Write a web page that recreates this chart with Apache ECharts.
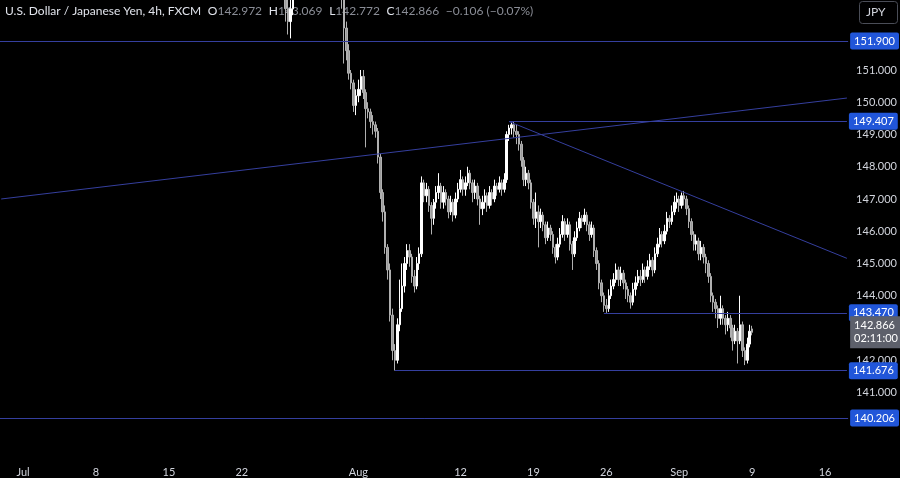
<!DOCTYPE html>
<html>
<head>
<meta charset="utf-8">
<script src="https://cdn.jsdelivr.net/npm/echarts@6/dist/echarts.min.js"></script>
<style>html,body{margin:0;background:#000;}#main{width:900px;height:478px;}</style>
</head>
<body>
<div id="main"></div>
<script>
// bars are 4h, weekdays only; first bar of the list sits at startIdx on the time axis
var startIdx = 117;
var totalBars = 349;
// [open, close, low, high]
var bars = [
[153.4,152.9,152.5,153.6],[152.9,152.5,152.1,153.3],[152.5,152.9,151.98,153.2],[152.9,153.5,152.7,153.8],[153.5,154.0,153.3,154.2],
[154.0,154.3,153.8,154.6],[154.3,154.1,153.9,154.5],[154.1,154.6,154.0,154.9],[154.6,154.9,154.4,155.2],[154.9,154.5,154.3,155.0],
[154.5,154.2,153.9,154.7],[154.2,154.6,154.0,154.8],[154.6,154.8,154.4,155.1],[154.8,154.4,154.2,155.0],[154.4,154.0,153.7,154.5],
[154.0,154.3,153.8,154.6],[154.3,154.7,154.1,154.9],[154.7,154.5,154.2,154.9],[154.5,154.2,154.0,154.6],[154.2,154.4,153.9,154.6],
[154.4,154.1,153.8,154.5],[154.1,154.2,153.7,154.4],[154.2,153.8,153.4,154.5],[153.8,153.3,152.9,154.0],[153.3,152.3,151.2,153.5],
[152.3,151.6,151.3,152.5],[151.6,150.9,150.7,151.8],
[150.9,150.6,150.4,151.0],[150.6,149.9,149.7,150.7],[149.9,150.2,149.6,150.4],[150.2,150.4,150.0,150.7],[150.4,150.8,150.2,151.0],
[150.8,150.3,150.1,151.0],[150.3,149.8,148.6,150.4],[149.8,149.7,149.5,150.0],[149.7,149.4,149.2,149.8],[149.4,149.3,149.0,149.6],
[149.3,149.1,148.9,149.4],[149.1,148.3,148.1,149.2],[148.3,147.2,147.0,148.4],[147.2,146.6,146.3,147.3],[146.6,145.5,145.3,146.8],
[145.5,144.8,144.5,145.6],[144.8,143.4,143.2,145.0],[143.4,142.3,142.0,143.6],[142.3,142.0,141.68,142.5],[142.0,143.1,141.9,143.3],
[143.1,143.6,142.9,144.5],[143.6,144.3,143.5,145.0],[144.3,145.0,144.1,145.2],[145.0,145.4,144.8,145.6],[145.4,145.2,144.9,145.6],
[145.2,144.6,144.4,145.3],[144.6,144.3,144.1,144.8],[144.3,145.0,144.2,145.2],[145.0,145.3,144.8,145.5],[145.3,147.5,145.2,147.7],
[147.5,147.1,146.9,147.6],[147.1,147.3,146.9,147.5],[147.3,146.8,146.6,147.4],[146.8,146.4,145.9,146.9],[146.4,146.9,146.2,147.0],
[146.9,147.2,146.7,147.4],[147.2,147.4,147.0,147.8],[147.4,146.9,146.7,147.5],[146.9,147.2,146.7,147.4],[147.2,147.0,146.8,147.3],
[147.0,146.6,146.4,147.1],[146.6,146.9,146.5,147.1],[146.9,146.5,146.3,147.0],[146.5,147.0,146.4,147.2],[147.0,147.3,146.9,147.5],
[147.3,147.6,147.2,147.9],[147.6,147.3,147.1,147.7],[147.3,147.5,147.1,147.7],[147.5,147.8,147.4,148.0],[147.8,147.5,147.3,147.9],
[147.5,147.2,146.9,147.6],[147.2,147.4,147.0,147.6],[147.4,147.0,146.8,147.5],[147.0,146.7,146.2,147.1],[146.7,146.9,146.5,147.1],
[146.9,147.1,146.7,147.3],[147.1,146.8,146.6,147.2],[146.8,147.2,146.7,147.4],[147.2,147.0,146.8,147.3],[147.0,147.4,146.9,147.6],
[147.4,147.3,147.1,147.5],[147.3,147.5,147.2,147.7],[147.5,147.3,147.1,147.6],[147.3,147.6,147.2,147.8],[147.6,149.0,147.5,149.1],
[149.0,149.2,148.8,149.3],[149.2,149.3,149.0,149.41],[149.3,149.1,148.9,149.4],[149.1,149.0,148.7,149.3],[149.0,148.7,148.5,149.1],
[148.7,148.2,148.0,148.8],[148.2,147.6,147.4,148.3],[147.6,147.8,147.4,148.0],[147.8,147.5,147.3,147.9],[147.5,146.9,146.7,147.6],
[146.9,146.4,146.2,147.0],[146.4,146.6,146.1,147.2],[146.6,146.3,145.5,146.8],[146.3,146.5,146.1,146.7],[146.5,146.2,146.0,146.6],
[146.2,145.8,145.6,146.3],[145.8,146.1,145.7,146.3],[146.1,145.9,145.7,146.2],[145.9,145.5,145.3,146.0],[145.5,145.2,145.0,145.6],
[145.2,145.6,145.1,145.8],[145.6,145.9,145.5,146.1],[145.9,146.3,145.8,146.5],[146.3,145.9,145.7,146.4],[145.9,146.2,145.8,146.4],
[146.2,145.6,145.4,146.3],[145.6,145.3,144.8,145.7],[145.3,145.8,145.2,146.0],[145.8,146.1,145.7,146.3],[146.1,146.4,146.0,146.6],
[146.4,146.3,146.1,146.5],[146.3,146.5,146.2,146.7],[146.5,146.2,146.0,146.6],[146.2,145.9,145.7,146.3],[145.9,146.1,145.8,146.3],
[146.1,145.4,145.2,146.2],[145.4,145.0,144.8,145.5],[145.0,144.4,144.2,145.1],[144.4,144.0,143.8,144.5],[144.0,143.7,143.5,144.1],
[143.7,143.6,143.47,143.9],[143.6,144.0,143.5,144.2],[144.0,144.3,143.9,144.5],[144.3,144.5,144.2,144.7],[144.5,144.8,144.4,145.0],
[144.8,144.5,144.3,144.9],[144.5,144.7,144.3,144.9],[144.7,144.4,144.2,144.8],[144.4,144.2,143.9,144.5],[144.2,144.0,143.8,144.3],
[144.0,143.8,143.6,144.1],[143.8,144.2,143.7,144.4],[144.2,144.4,144.0,144.6],[144.4,144.6,144.3,144.8],[144.6,144.5,144.3,144.8],
[144.5,144.8,144.4,145.0],[144.8,144.6,144.4,144.9],[144.6,144.9,144.5,145.1],[144.9,145.1,144.8,145.3],[145.1,144.8,144.6,145.2],
[144.8,145.3,144.7,145.5],[145.3,145.6,145.2,145.8],[145.6,145.9,145.5,146.1],[145.9,145.7,145.5,146.0],[145.7,146.0,145.6,146.2],
[146.0,146.4,145.9,146.6],[146.4,146.3,146.1,146.5],[146.3,146.6,146.2,146.8],[146.6,146.9,146.5,147.1],[146.9,147.0,146.7,147.2],
[147.0,146.8,146.6,147.1],[146.8,147.1,146.7,147.2],[147.1,147.0,146.8,147.25],[147.0,146.7,146.5,147.1],[146.7,146.3,146.1,146.8],
[146.3,145.9,145.7,146.4],[145.9,145.6,145.4,146.0],[145.6,145.7,145.4,145.9],[145.7,145.3,145.1,145.8],[145.3,145.5,145.1,145.7],
[145.5,145.2,145.0,145.6],[145.2,145.0,144.7,145.3],[145.0,144.6,144.4,145.1],[144.6,144.0,143.8,144.7],[144.0,143.8,143.5,144.1],
[143.8,143.6,143.3,143.9],[143.6,143.3,143.0,143.7],[143.3,143.6,143.1,144.0],[143.6,143.3,143.1,143.7],[143.3,143.1,142.8,143.4],
[143.1,143.3,142.9,143.5],[143.3,143.0,142.7,143.4],[143.0,142.6,142.3,143.1],[142.6,142.9,142.5,143.1],[142.9,142.6,141.9,143.0],
[142.6,143.1,142.5,144.0],[143.1,142.3,142.1,143.2],[142.3,142.0,141.85,142.4],[142.0,142.5,141.9,142.7],[142.5,142.9,142.4,143.1],
[142.972,142.866,142.772,143.069]
];
var levels = [151.900, 140.206];            // full width horizontals
var partLevels = [[209, 149.407], [248, 143.470], [162, 141.676]];
var risingLine = [[0, 147.0], [348, 150.13]];
var fallingLine = [[209, 149.40], [348, 145.16]];
var lastPrice = 142.866;
var yTicks = [141, 142, 143, 144, 145, 146, 147, 148, 149, 150, 151];
var monthNames = ['Jan','Feb','Mar','Apr','May','Jun','Jul','Aug','Sep','Oct'];

// time axis: weekdays, six 4h bars a day, starting Jun 27 12:00
var cats = [], labels = [], dates = [];
var t = new Date(2024, 5, 27, 12);
while (cats.length < totalBars) {
    var wd = t.getDay();
    if (wd != 0 && wd != 6) {
        cats.push(cats.length);
        dates.push(new Date(t.getTime()));
    }
    t = new Date(t.getTime() + 4 * 3600 * 1000);
}
var monthStarts = [];
dates.forEach(function (d, i) {
    if (i > 0 && d.getMonth() != dates[i - 1].getMonth()) monthStarts.push(i);
});
dates.forEach(function (d, i) {
    var lab = '';
    if (monthStarts.indexOf(i) >= 0) lab = monthNames[d.getMonth()];
    else if (d.getDay() == 1 && d.getHours() == 0) {
        var near = monthStarts.some(function (m) { return Math.abs(m - i) < 30; });
        if (!near) lab = '' + d.getDate();
    }
    labels.push(lab);
});

var data = [];
for (var k = 0; k < totalBars; k++) data.push('-');
bars.forEach(function (b, j) { data[startIdx + j] = b; });

var lineCol = '#353f9e';
var tagLabel = function (v) {
    return {show: true, position: 'end', formatter: v.toFixed(3), color: '#fff', backgroundColor: '#2156d9',
        padding: [3, 4], fontSize: 11, fontFamily: 'Lato', distance: 2, borderRadius: 2};
};
var markData = levels.map(function (v) {
    return {yAxis: v, lineStyle: {color: lineCol, width: 1}, label: tagLabel(v)};
});
partLevels.forEach(function (p) {
    markData.push([{coord: [p[0], p[1]], lineStyle: {color: lineCol, width: 1}, label: tagLabel(p[1])}, {coord: [totalBars - 1, p[1]]}]);
});
markData.push([{coord: risingLine[0], label: {show: false}}, {coord: risingLine[1]}]);
markData.push([{coord: fallingLine[0], label: {show: false}}, {coord: fallingLine[1]}]);
markData.push({
    yAxis: lastPrice, lineStyle: {color: 'rgba(0,0,0,0)', width: 1},
    label: {show: true, position: 'end', formatter: lastPrice.toFixed(3) + '\n02:11:00', color: '#fff',
        backgroundColor: '#5d606b', padding: [3, 4], fontSize: 11, lineHeight: 13, fontFamily: 'Lato', distance: 2}
});

var chart = echarts.init(document.getElementById('main'));
chart.setOption({
    backgroundColor: '#000',
    animation: false,
    grid: {left: 0, right: 45, top: 0, height: 457},
    xAxis: {
        type: 'category', data: cats, boundaryGap: true,
        axisLine: {show: false}, axisTick: {show: false}, splitLine: {show: false},
        axisLabel: {
            interval: function (i) { return labels[i] != ''; },
            formatter: function (v, i) { return labels[i]; },
            color: '#d1d4dc', fontSize: 11, fontFamily: 'Lato', margin: 10
        }
    },
    yAxis: {
        type: 'value', position: 'right', min: 139, max: 153.17, interval: 1,
        axisLine: {show: false}, axisTick: {show: false}, splitLine: {show: false},
        axisLabel: {
            formatter: function (v) { return yTicks.indexOf(v) >= 0 ? v.toFixed(3) : ''; },
            color: '#d1d4dc', fontSize: 11, fontFamily: 'Lato', margin: 8
        }
    },
    series: [{
        type: 'candlestick', data: data, barWidth: 2,
        itemStyle: {color: '#ffffff', color0: '#9a9a9a', borderColor: '#ffffff', borderColor0: '#b0b0b0', borderWidth: 1},
        markLine: {symbol: 'none', silent: true, animation: false, lineStyle: {color: lineCol, width: 1, type: 'solid'}, data: markData}
    }],
    graphic: [
        {type: 'text', left: 5, top: 5, style: {
            text: '{w|U.S. Dollar / Japanese Yen, 4h, FXCM}  {w|O}{g|142.972}  {w|H}{g|143.069}  {w|L}{g|142.772}  {w|C}{g|142.866}  {g|−0.106 (−0.07%)}',
            rich: {w: {fill: '#e0e3eb', fontSize: 12, fontFamily: 'Lato'}, g: {fill: '#8a8d96', fontSize: 12, fontFamily: 'Lato'}}
        }},
        {type: 'rect', left: 859, top: 1, shape: {width: 38, height: 22, r: 3}, style: {fill: '#000', stroke: '#4a4d57'}},
        {type: 'text', left: 866, top: 6, style: {text: 'JPY', fill: '#d1d4dc', fontSize: 12, fontFamily: 'Lato'}}
    ]
});
</script>
</body>
</html>
